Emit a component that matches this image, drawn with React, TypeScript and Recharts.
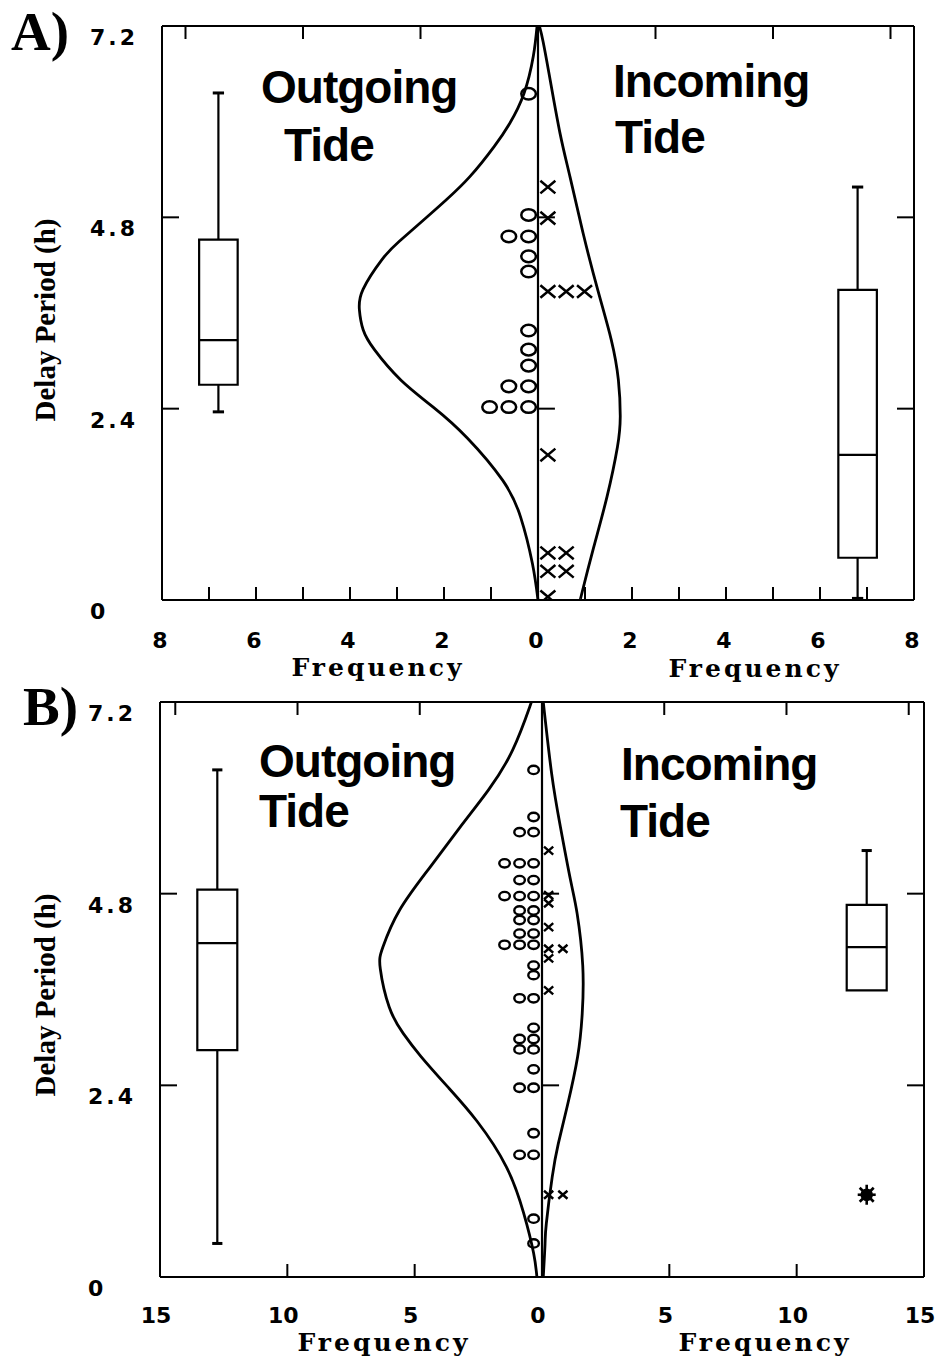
import React from 'react';
import { ComposedChart, Scatter, XAxis, YAxis, ReferenceLine, ReferenceArea } from 'recharts';

// ---------- shared ----------
const DELAY_TICKS = [0, 2.4, 4.8, 7.2];

// ---------- Panel A ----------
const A_FREQ_TICKS = [-8, -7, -6, -5, -4, -3, -2, -1, 0, 1, 2, 3, 4, 5, 6, 7, 8];
const A_FREQ_INNER = [-7, -6, -5, -4, -3, -2, -1, 1, 2, 3, 4, 5, 6, 7];
const A_FREQ_LABELS = [-8, -6, -4, -2, 0, 2, 4, 6, 8];
const A_TOP_TICKS = [-7.5, -5, -2.5, 2.5, 5, 7.5];

// [delay (h), frequency]
const aOutgoingCurve: [number, number][] = [
  [0, 0], [0.46, 0.12], [1.04, 0.37], [1.5, 0.75], [2.03, 1.5], [2.42, 2.23],
  [2.76, 2.92], [3.14, 3.48], [3.39, 3.72], [3.64, 3.8], [3.9, 3.72], [4.27, 3.32], [4.5, 2.95],
  [4.81, 2.35], [5.02, 1.95], [5.31, 1.45], [5.69, 0.93], [5.98, 0.6], [6.35, 0.3], [6.82, 0.1],
  [7.2, 0.02],
];
const aIncomingCurve: [number, number][] = [
  [0, 0.9], [0.1, 0.94], [0.65, 1.18], [1.3, 1.47], [1.92, 1.69], [2.3, 1.75], [2.76, 1.71],
  [3.26, 1.56], [3.87, 1.28], [4.6, 0.96], [5.31, 0.68], [5.85, 0.47], [6.52, 0.26], [7.0, 0.11], [7.2, 0.03],
];
const aOutgoingDots: [number, number][] = [
  [6.35, 0.2], [4.83, 0.2], [4.56, 0.2], [4.56, 0.62], [4.31, 0.2], [4.12, 0.2], [3.38, 0.2],
  [3.14, 0.2], [2.94, 0.2], [2.68, 0.2], [2.68, 0.62], [2.42, 0.2], [2.42, 0.62], [2.42, 1.03],
];
const aIncomingDots: [number, number][] = [
  [5.18, 0.21], [4.79, 0.21], [3.87, 0.21], [3.87, 0.6], [3.87, 0.99], [1.82, 0.21],
  [0.59, 0.21], [0.59, 0.6], [0.36, 0.21], [0.36, 0.6], [0.04, 0.21],
];
// [min, q1, median, q3, max]
const aOutgoingBox = [2.36, 2.7, 3.26, 4.52, 6.36];
const aIncomingBox = [0.02, 0.53, 1.82, 3.89, 5.18];

// ---------- Panel B ----------
const B_FREQ_TICKS = [-15, -10, -5, 0, 5, 10, 15];
const B_FREQ_INNER = [-10, -5, 5, 10];
const B_FREQ_LABELS = [-15, -10, -5, 0, 5, 10, 15];
const B_TOP_TICKS = [-14.4, -9.6, -4.8, 4.8, 9.6, 14.4];

const bOutgoingCurve: [number, number][] = [
  [0, 0.2], [0.3, 0.33], [0.8, 0.72], [1.38, 1.4], [1.95, 2.55], [2.38, 3.7], [2.76, 4.75],
  [3.05, 5.45], [3.38, 6.0], [3.86, 6.35], [4.13, 6.25], [4.59, 5.6], [5.13, 4.4],
  [5.64, 3.2], [6.1, 2.1], [6.6, 1.15], [7.14, 0.48], [7.2, 0.42],
];
const bIncomingCurve: [number, number][] = [
  [0, 0.05], [0.42, 0.12], [0.67, 0.17], [1.25, 0.4], [1.67, 0.64], [2.15, 1.0], [2.76, 1.4],
  [3.3, 1.58], [3.9, 1.6], [4.55, 1.38], [4.97, 1.12], [5.64, 0.72], [6.3, 0.38], [7.2, 0.05],
];
const bOutgoingDots: [number, number][] = [
  [6.35, 0.33], [5.76, 0.33], [5.57, 0.33], [5.57, 0.88],
  [5.18, 0.33], [5.18, 0.88], [5.18, 1.47], [4.97, 0.33], [4.97, 0.88],
  [4.77, 0.33], [4.77, 0.88], [4.77, 1.47], [4.59, 0.33], [4.59, 0.88],
  [4.47, 0.33], [4.47, 0.88], [4.3, 0.33], [4.3, 0.88],
  [4.16, 0.33], [4.16, 0.88], [4.16, 1.47], [3.9, 0.33], [3.78, 0.33],
  [3.49, 0.33], [3.49, 0.88], [3.12, 0.33], [2.98, 0.33], [2.98, 0.88],
  [2.85, 0.33], [2.85, 0.88], [2.6, 0.33], [2.37, 0.33], [2.37, 0.88],
  [1.8, 0.33], [1.53, 0.33], [1.53, 0.88], [0.73, 0.33], [0.42, 0.33],
];
const bIncomingDots: [number, number][] = [
  [5.34, 0.26], [4.78, 0.26], [4.68, 0.26], [4.38, 0.26], [4.11, 0.26], [4.11, 0.82],
  [3.99, 0.26], [3.59, 0.26], [1.03, 0.26], [1.03, 0.82],
];
const bOutgoingBox = [0.42, 2.84, 4.18, 4.85, 6.35];
const bIncomingBox = [3.59, 3.59, 4.13, 4.66, 5.34];
const bIncomingOutliers = [1.03];

// ---------- helpers ----------
const toPoints = (arr: [number, number][], side: number) => arr.map(([d, f]) => ({ x: side * f, y: d }));

const circleShape = (rx: number, ry: number, sw: number) => (p: any) => (
  <ellipse cx={p.cx} cy={p.cy} rx={rx} ry={ry} fill="none" stroke="#000" strokeWidth={sw} />
);
const crossShape = (hw: number, hh: number, sw: number) => (p: any) => (
  <path
    d={`M${p.cx - hw},${p.cy - hh}L${p.cx + hw},${p.cy + hh}M${p.cx - hw},${p.cy + hh}L${p.cx + hw},${p.cy - hh}`}
    stroke="#000" strokeWidth={sw} fill="none"
  />
);
const starShape = (p: any) => (
  <g stroke="#000" strokeWidth={2.6}>
    <circle cx={p.cx} cy={p.cy} r={5} fill="#000" />
    <line x1={p.cx - 9} y1={p.cy} x2={p.cx + 9} y2={p.cy} />
    <line x1={p.cx} y1={p.cy - 10} x2={p.cx} y2={p.cy + 10} />
    <line x1={p.cx - 7} y1={p.cy - 7} x2={p.cx + 7} y2={p.cy + 7} />
    <line x1={p.cx - 7} y1={p.cy + 7} x2={p.cx + 7} y2={p.cy - 7} />
  </g>
);
const emptyShape = () => <g />;

const numFont = { fontFamily: 'DejaVu Sans', fontWeight: 700, fontSize: 22 } as const;

type PanelCfg = {
  top: number;
  height: number;
  margin: { top: number; right: number; bottom: number; left: number };
  xMax: number;
  bottomTicks: number[];
  bottomInner: number[];
  bottomLabels: number[];
  labelDx: number;
  labelDy: number;
  topTicks: number[];
  outCurve: [number, number][];
  inCurve: [number, number][];
  outDots: [number, number][];
  inDots: [number, number][];
  outBox: number[];
  inBox: number[];
  outliers: number[];
  boxCenter: number;
  boxHalf: number;
  capHalf: number;
  centerTick: number;
  circle: [number, number];
  cross: [number, number];
  symbolWidth: number;
};

const renderBox = (stats: number[], cx: number, half: number, cap: number, key: string) => {
  const [mn, q1, med, q3, mx] = stats;
  const items: React.ReactNode[] = [
    <ReferenceArea key={key + 'b'} x1={cx - half} x2={cx + half} y1={q1} y2={q3} fill="none" fillOpacity={0} stroke="#000" strokeWidth={2.2} ifOverflow="visible" />,
    <ReferenceLine key={key + 'm'} segment={[{ x: cx - half, y: med }, { x: cx + half, y: med }]} stroke="#000" strokeWidth={2.2} ifOverflow="visible" />,
  ];
  if (mx > q3) {
    items.push(<ReferenceLine key={key + 'u'} segment={[{ x: cx, y: q3 }, { x: cx, y: mx }]} stroke="#000" strokeWidth={2.2} ifOverflow="visible" />);
    items.push(<ReferenceLine key={key + 'uc'} segment={[{ x: cx - cap, y: mx }, { x: cx + cap, y: mx }]} stroke="#000" strokeWidth={3} ifOverflow="visible" />);
  }
  if (mn < q1) {
    items.push(<ReferenceLine key={key + 'l'} segment={[{ x: cx, y: q1 }, { x: cx, y: mn }]} stroke="#000" strokeWidth={2.2} ifOverflow="visible" />);
    items.push(<ReferenceLine key={key + 'lc'} segment={[{ x: cx - cap, y: mn }, { x: cx + cap, y: mn }]} stroke="#000" strokeWidth={3} ifOverflow="visible" />);
  }
  return items;
};

function Panel({ cfg }: { cfg: PanelCfg }) {
  const width = 936;
  const bottomTick = (props: any) => {
    const { x, y, payload } = props;
    const v = payload.value;
    return (
      <g>
        {cfg.bottomInner.includes(v) && <line x1={x} x2={x} y1={y} y2={y - 13} stroke="#000" strokeWidth={2} />}
        {cfg.bottomLabels.includes(v) && (
          <text x={x + cfg.labelDx} y={y + cfg.labelDy} textAnchor="middle" {...numFont} fill="#000">
            {Math.abs(v)}
          </text>
        )}
      </g>
    );
  };
  const topTick = (props: any) => {
    const { x, y } = props;
    return <line x1={x} x2={x} y1={y} y2={y + 13} stroke="#000" strokeWidth={2} />;
  };
  const leftTick = (props: any) => {
    const { x, y, payload } = props;
    const v = payload.value;
    const inner = v > 0 && v < 7.2;
    return (
      <g>
        {inner && <line x1={x} x2={x + 17} y1={y} y2={y} stroke="#000" strokeWidth={2} />}
        <text x={x - 72} y={y + 19} textAnchor="start" {...numFont} letterSpacing={3} fill="#000">
          {v === 0 ? '0' : v.toFixed(1)}
        </text>
      </g>
    );
  };
  const rightTick = (props: any) => {
    const { x, y, payload } = props;
    const v = payload.value;
    if (!(v > 0 && v < 7.2)) return <g />;
    return <line x1={x} x2={x - 17} y1={y} y2={y} stroke="#000" strokeWidth={2} />;
  };

  const sw = cfg.symbolWidth;
  const lineStyle = { stroke: '#000', strokeWidth: 2.8, fill: 'none' };
  return (
    <div style={{ position: 'absolute', left: 0, top: cfg.top }}>
      <ComposedChart width={width} height={cfg.height} margin={cfg.margin}>
        <XAxis xAxisId={0} dataKey="x" type="number" domain={[-cfg.xMax, cfg.xMax]} allowDataOverflow
          ticks={cfg.bottomTicks} interval={0} height={1} tickSize={0} tickMargin={0} tickLine={false}
          axisLine={{ stroke: '#000', strokeWidth: 2 }} tick={bottomTick} />
        <XAxis xAxisId="top" orientation="top" dataKey="x" type="number" domain={[-cfg.xMax, cfg.xMax]} allowDataOverflow
          ticks={cfg.topTicks} interval={0} height={1} tickSize={0} tickMargin={0} tickLine={false}
          axisLine={{ stroke: '#000', strokeWidth: 2 }} tick={topTick} />
        <YAxis yAxisId={0} dataKey="y" type="number" domain={[0, 7.2]} allowDataOverflow
          ticks={DELAY_TICKS} interval={0} width={1} tickSize={0} tickMargin={0} tickLine={false}
          axisLine={{ stroke: '#000', strokeWidth: 2 }} tick={leftTick} />
        <YAxis yAxisId="right" orientation="right" dataKey="y" type="number" domain={[0, 7.2]} allowDataOverflow
          ticks={DELAY_TICKS} interval={0} width={1} tickSize={0} tickMargin={0} tickLine={false}
          axisLine={{ stroke: '#000', strokeWidth: 2 }} tick={rightTick} />

        <ReferenceLine x={0} stroke="#000" strokeWidth={2.2} />
        <ReferenceLine segment={[{ x: 0, y: 2.4 }, { x: cfg.centerTick, y: 2.4 }]} stroke="#000" strokeWidth={2} />
        <ReferenceLine segment={[{ x: 0, y: 4.8 }, { x: cfg.centerTick, y: 4.8 }]} stroke="#000" strokeWidth={2} />

        {renderBox(cfg.outBox, -cfg.boxCenter, cfg.boxHalf, cfg.capHalf, 'ob')}
        {renderBox(cfg.inBox, cfg.boxCenter, cfg.boxHalf, cfg.capHalf, 'ib')}

        <Scatter data={toPoints(cfg.outCurve, -1)} line={lineStyle}
          lineType="joint" lineJointType="natural" shape={emptyShape} isAnimationActive={false} />
        <Scatter data={toPoints(cfg.inCurve, 1)} line={lineStyle}
          lineType="joint" lineJointType="natural" shape={emptyShape} isAnimationActive={false} />

        <Scatter data={toPoints(cfg.outDots, -1)} shape={circleShape(cfg.circle[0], cfg.circle[1], sw)} isAnimationActive={false} />
        <Scatter data={toPoints(cfg.inDots, 1)} shape={crossShape(cfg.cross[0], cfg.cross[1], sw)} isAnimationActive={false} />
        <Scatter data={cfg.outliers.map((d) => ({ x: cfg.boxCenter, y: d }))} shape={starShape} isAnimationActive={false} />
      </ComposedChart>
    </div>
  );
}

const panelA: PanelCfg = {
  top: 0,
  height: 690,
  margin: { top: 25, right: 21, bottom: 89, left: 161 },
  xMax: 8,
  bottomTicks: A_FREQ_TICKS,
  bottomInner: A_FREQ_INNER,
  bottomLabels: A_FREQ_LABELS,
  labelDx: -2,
  labelDy: 48,
  topTicks: A_TOP_TICKS,
  outCurve: aOutgoingCurve,
  inCurve: aIncomingCurve,
  outDots: aOutgoingDots,
  inDots: aIncomingDots,
  outBox: aOutgoingBox,
  inBox: aIncomingBox,
  outliers: [],
  boxCenter: 6.8,
  boxHalf: 0.41,
  capHalf: 0.12,
  centerTick: 0.36,
  circle: [7.3, 5.8],
  cross: [7.5, 6.3],
  symbolWidth: 2.5,
};

const panelB: PanelCfg = {
  top: 680,
  height: 676,
  margin: { top: 21, right: 11, bottom: 78, left: 159 },
  xMax: 15,
  bottomTicks: B_FREQ_TICKS,
  bottomInner: B_FREQ_INNER,
  bottomLabels: B_FREQ_LABELS,
  labelDx: -4,
  labelDy: 46,
  topTicks: B_TOP_TICKS,
  outCurve: bOutgoingCurve,
  inCurve: bIncomingCurve,
  outDots: bOutgoingDots,
  inDots: bIncomingDots,
  outBox: bOutgoingBox,
  inBox: bIncomingBox,
  outliers: bIncomingOutliers,
  boxCenter: 12.75,
  boxHalf: 0.785,
  capHalf: 0.2,
  centerTick: 0.67,
  circle: [5.3, 4.2],
  cross: [4.6, 4],
  symbolWidth: 2.4,
};

const tideFont = { fontFamily: 'Liberation Sans', fontWeight: 700, fontSize: 46, letterSpacing: -1 } as const;
const freqFont = { fontFamily: 'DejaVu Serif', fontWeight: 700, fontSize: 25, letterSpacing: 3 } as const;
const panelLetterFont = { fontFamily: 'Liberation Serif', fontWeight: 700, fontSize: 55 } as const;
const yTitleFont = { fontFamily: 'Liberation Serif', fontWeight: 700, fontSize: 29 } as const;

export default function App() {
  return (
    <div style={{ position: 'absolute', left: 0, top: 0, width: 936, height: 1356, background: '#fff', overflow: 'hidden' }}>
      <Panel cfg={panelA} />
      <Panel cfg={panelB} />
      <svg width={936} height={1356} style={{ position: 'absolute', left: 0, top: 0, pointerEvents: 'none' }}>
        <g fill="#000">
          <text x={11} y={50} {...panelLetterFont}>A)</text>
          <text x={23} y={725} {...panelLetterFont}>B)</text>

          <text x={261} y={103} {...tideFont}>Outgoing</text>
          <text x={284} y={161} {...tideFont}>Tide</text>
          <text x={613} y={97} {...tideFont}>Incoming</text>
          <text x={615} y={153} {...tideFont}>Tide</text>

          <text x={259} y={777} {...tideFont}>Outgoing</text>
          <text x={259} y={827} {...tideFont}>Tide</text>
          <text x={621} y={780} {...tideFont}>Incoming</text>
          <text x={620} y={837} {...tideFont}>Tide</text>

          <text x={378} y={676} textAnchor="middle" {...freqFont}>Frequency</text>
          <text x={755} y={677} textAnchor="middle" {...freqFont}>Frequency</text>
          <text x={384} y={1351} textAnchor="middle" {...freqFont}>Frequency</text>
          <text x={765} y={1351} textAnchor="middle" {...freqFont}>Frequency</text>

          <text x={55} y={320} textAnchor="middle" transform="rotate(-90, 55, 320)" {...yTitleFont}>Delay Period (h)</text>
          <text x={55} y={995} textAnchor="middle" transform="rotate(-90, 55, 995)" {...yTitleFont}>Delay Period (h)</text>
        </g>
      </svg>
    </div>
  );
}
